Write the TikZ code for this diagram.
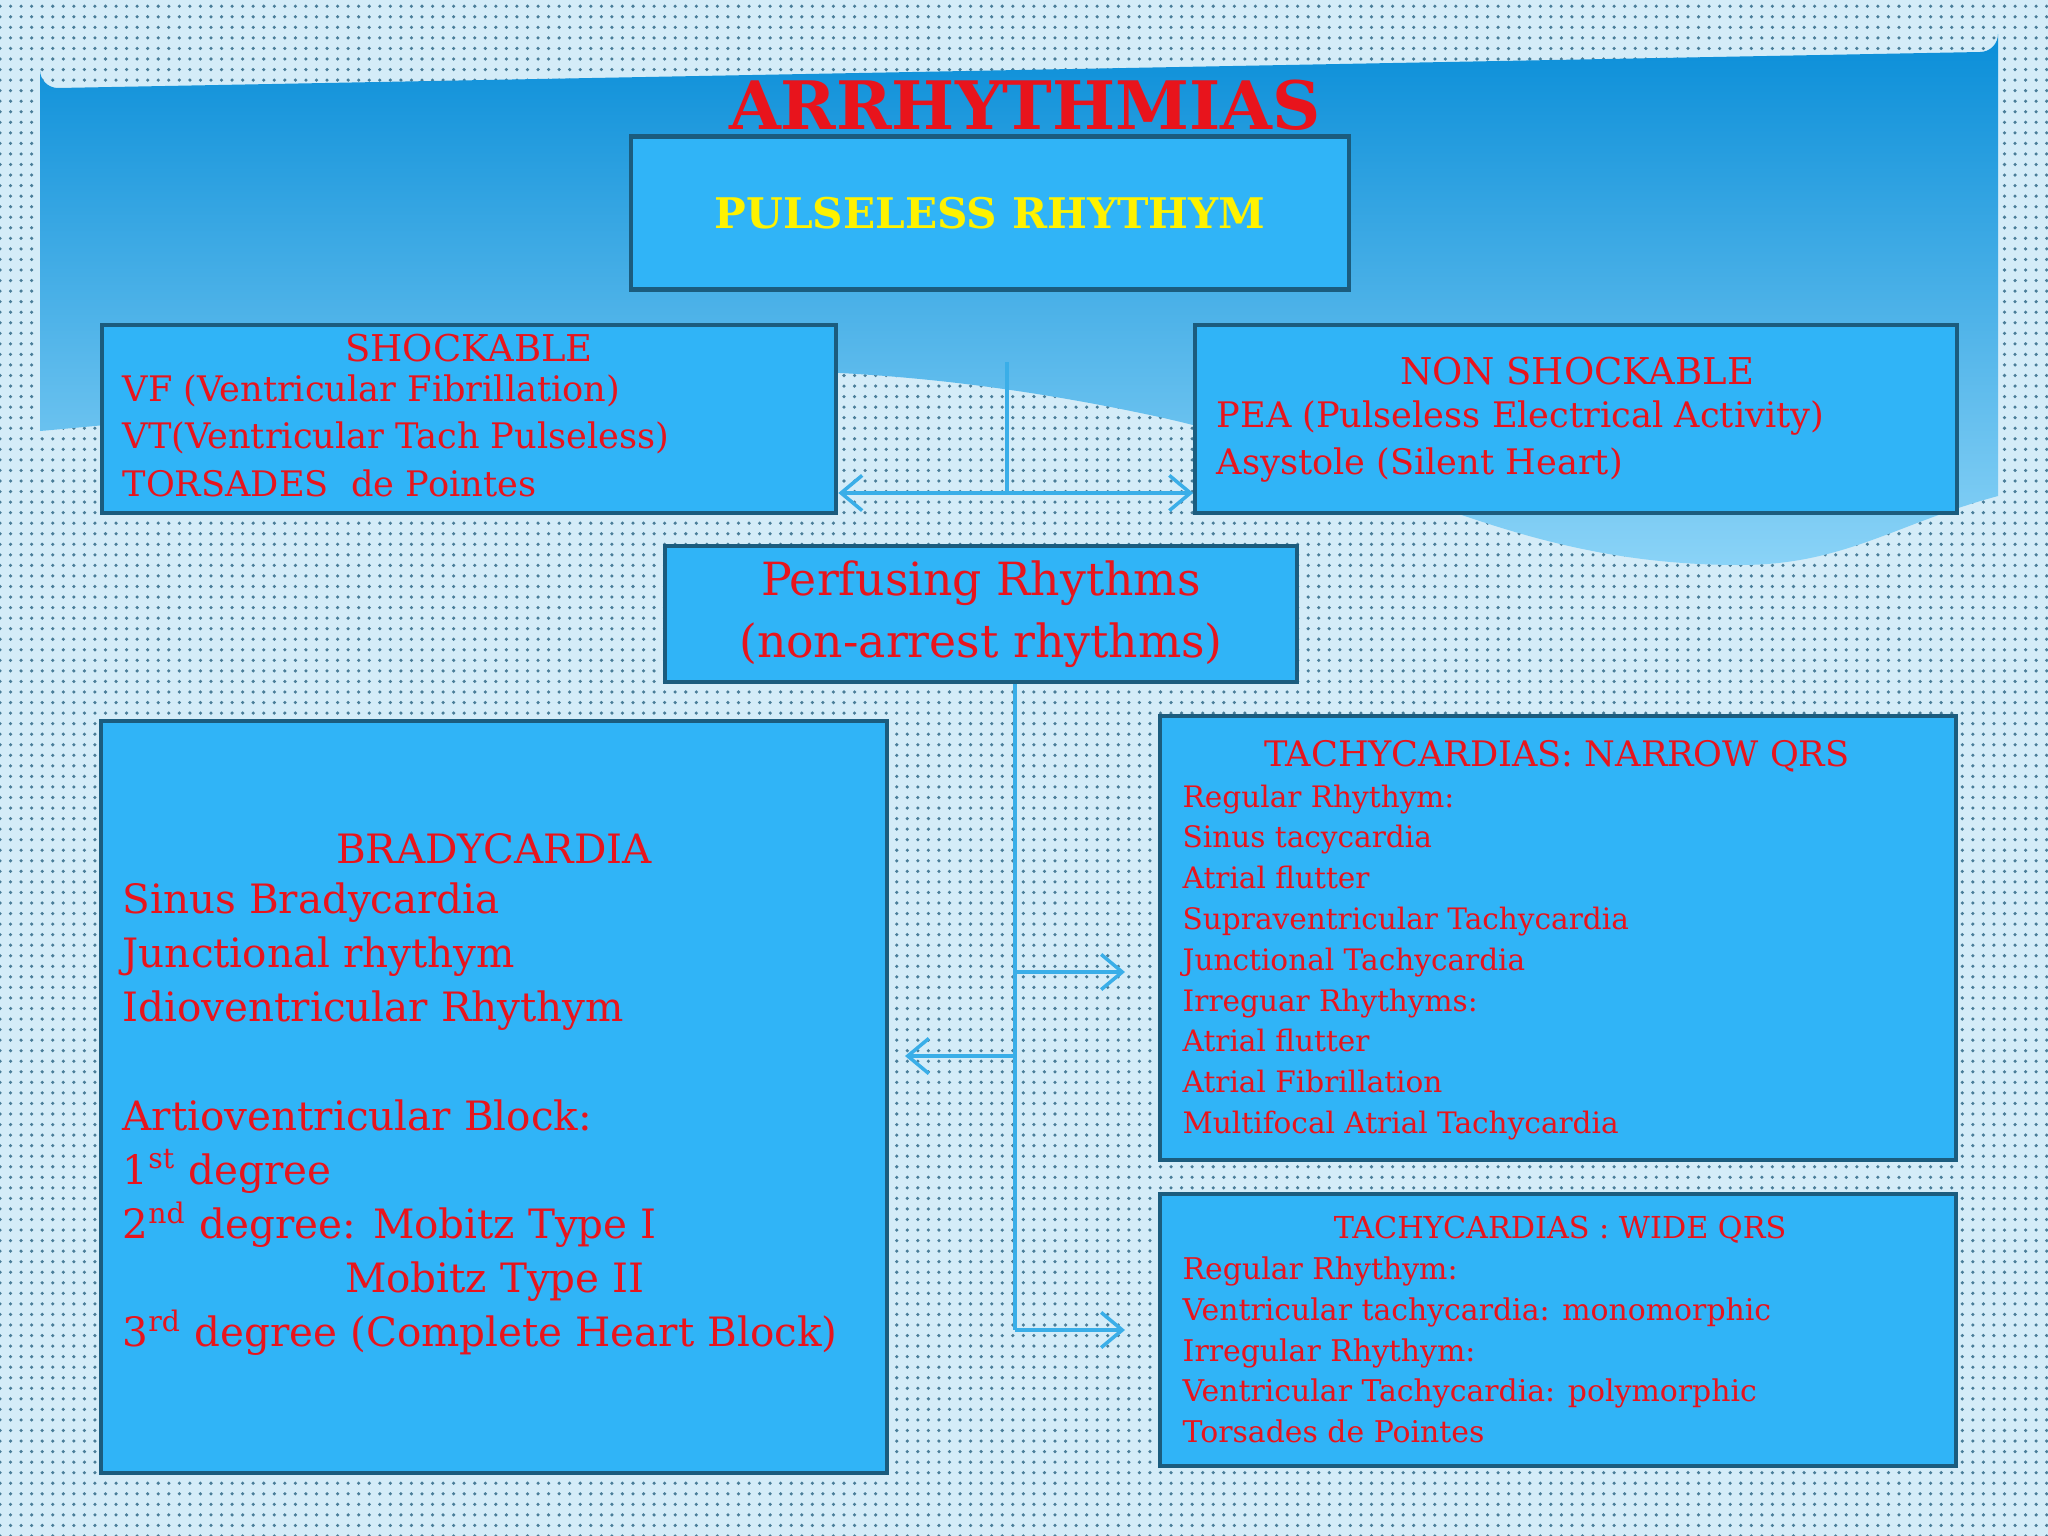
\documentclass[tikz,border=0pt]{standalone}
\usepackage{fontspec}
\setmainfont{DejaVu Serif}
\usetikzlibrary{patterns,arrows.meta}
\definecolor{bg}{HTML}{D4ECF8}
\definecolor{boxf}{HTML}{30B4F7}
\definecolor{boxd}{HTML}{1B5C7E}
\definecolor{tred}{HTML}{E8141C}
\definecolor{ln}{HTML}{3AAEE8}
\definecolor{ptop}{HTML}{0A8ED8}
\definecolor{pbot}{HTML}{8AD3F7}
\tikzset{bx/.style={draw=boxd,line width=1.2pt,fill=boxf,inner sep=0pt},
 lt/.style={text=tred,align=left,anchor=north west,inner sep=0pt},
 con/.style={draw=ln,line width=1pt},
 arr/.style={con,-{Straight Barb[length=6pt,width=10pt]}}}
\begin{document}
\begin{tikzpicture}[x=0.01cm,y=-0.01cm]
\useasboundingbox (0,0) rectangle (2048,1536);
\fill[bg] (0,0) rectangle (2048,1536);
\fill[pattern=dots,pattern color=boxd!80] (0,0) rectangle (2048,1536);
\shade[top color=ptop,bottom color=pbot] (40,431) -- (40,70) arc[start angle=180,end angle=90,radius=18] -- (1980,52) arc[start angle=90,end angle=0,radius=18] -- (1998,496) to[out=195,in=0] (1740,565) to[out=180,in=-12] (1150,415) to[out=168,in=5] (40,431) -- cycle;
\node[text=tred,font=\bfseries\fontsize{19}{22}\selectfont] (title) at (1025,105) {ARRHYTHMIAS};
\node[bx,minimum width=7.18cm,minimum height=1.53cm] (pl) at (990,213) {};
\node[text=yellow,font=\bfseries\fontsize{12}{14}\selectfont] at (pl) {PULSELESS RHYTHYM};
\node[bx,minimum width=7.34cm,minimum height=1.88cm] (sh) at (469,419) {};
\node[bx,minimum width=7.61cm,minimum height=1.88cm] (ns) at (1576,419) {};
\node[text=tred,font=\fontsize{10.5}{12}\selectfont] at (469,348) {SHOCKABLE};
\node[lt,font=\fontsize{10}{13.5}\selectfont] at (122,374) {VF (Ventricular Fibrillation)\\VT(Ventricular Tach Pulseless)\\TORSADES\ \ de Pointes};
\node[text=tred,font=\fontsize{10.5}{12}\selectfont] at (1577,371) {NON SHOCKABLE};
\node[lt,font=\fontsize{10}{13.5}\selectfont] at (1216,400) {PEA (Pulseless Electrical Activity)\\Asystole (Silent Heart)};
\coordinate (ct) at (1007,362);
\coordinate (cb) at (1007,493);
\draw[con] (ct) -- (cb);
\draw[arr] (cb) -- (sh.east|-cb);
\draw[arr] (cb) -- (ns.west|-cb);
\node[bx,minimum width=6.31cm,minimum height=1.36cm] (pf) at (981,614) {};
\node[text=tred,align=center,font=\fontsize{13}{17.5}\selectfont] at (pf) {Perfusing Rhythms\\(non-arrest rhythms)};
\node[bx,minimum width=7.86cm,minimum height=7.52cm] (br) at (494,1097) {};
\node[bx,minimum width=7.96cm,minimum height=4.44cm] (nq) at (1558,938) {};
\node[bx,minimum width=7.96cm,minimum height=2.72cm] (wq) at (1558,1330) {};
\node[text=tred,font=\fontsize{11.5}{14}\selectfont] at (494,849) {BRADYCARDIA};
\node[lt,font=\fontsize{11.5}{15.4}\selectfont] at (122,882) {Sinus Bradycardia\\Junctional rhythym\\Idioventricular Rhythym\\[15.4pt]Artioventricular Block:\\1\textsuperscript{st} degree\\2\textsuperscript{nd} degree: Mobitz Type I\\\hspace*{5.5em}Mobitz Type II\\3\textsuperscript{rd} degree (Complete Heart Block)};
\node[text=tred,font=\fontsize{10}{12}\selectfont] at (1557,756) {TACHYCARDIAS: NARROW QRS};
\node[lt,font=\fontsize{8.4}{11.6}\selectfont] at (1182,784) {Regular Rhythym:\\Sinus tacycardia\\Atrial flutter\\Supraventricular Tachycardia\\Junctional Tachycardia\\Irreguar Rhythyms:\\Atrial flutter\\Atrial Fibrillation\\Multifocal Atrial Tachycardia};
\node[text=tred,font=\fontsize{8.6}{11}\selectfont] at (1560,1230) {TACHYCARDIAS : WIDE QRS};
\node[lt,font=\fontsize{8.5}{11.6}\selectfont] at (1182,1256) {Regular Rhythym:\\Ventricular tachycardia: monomorphic\\Irregular Rhythym:\\Ventricular Tachycardia: polymorphic\\Torsades de Pointes};
\coordinate (vt) at (1015,682);
\coordinate (v1) at (1015,972);
\coordinate (v2) at (1015,1056);
\coordinate (v3) at (1015,1330);
\draw[con] (pf.south-|vt) -- (v3);
\draw[arr] (v1) -- (1125,972);
\draw[arr] (v2) -- (905,1056);
\draw[arr] (v3) -- (1125,1330);
\end{tikzpicture}
\end{document}
